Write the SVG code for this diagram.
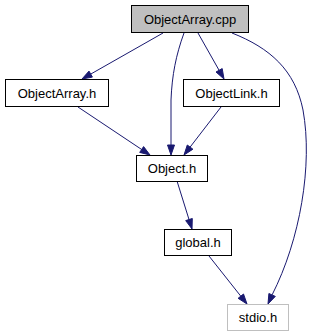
<svg xmlns="http://www.w3.org/2000/svg" width="336" height="336" viewBox="0 0 336 336">
<style>
.node rect{fill:#ffffff;stroke:#000000;stroke-width:1}
.node text{font-family:"Liberation Sans",Arial,sans-serif;font-size:13px;fill:#000000;text-anchor:middle}
.edges path{fill:none;stroke:#191970;stroke-width:1}
.edges polygon{fill:#191970;stroke:#191970;stroke-width:1}
</style>
<rect x="0" y="0" width="336" height="336" fill="#ffffff"/>
<g class="edges">
<path d="M163,33 L90.7,74.1"/>
<polygon points="92.4,77.1 82,79 89,71.1"/>
<path d="M184,33 C176,55 172,75 171,100 L171,145"/>
<polygon points="167.5,145 171,155 174.5,145"/>
<path d="M198,33 L219.1,70.3"/>
<polygon points="216,72 224,79 222.2,68.6"/>
<path d="M232,33 C270,48 295,70 303,110 C313,165 300,240 272.1,294.9"/>
<polygon points="275.3,296.4 268,304 268.9,293.5"/>
<path d="M78,107 L141.7,149.5"/>
<polygon points="139.7,152.4 150,155 143.6,146.6"/>
<path d="M221,107 L190.1,147.1"/>
<polygon points="192.9,149.2 184,155 187.3,145"/>
<path d="M177,181 L189,219.5"/>
<polygon points="185.7,220.6 192,229 192.3,218.5"/>
<path d="M209,256 L240.8,296.2"/>
<polygon points="238.1,298.3 247,304 243.5,294"/>
</g>
<g id="node-cpp" class="node">
<rect x="131.5" y="5.5" width="117" height="27" style="fill:#bfbfbf"/>
<text x="190" y="23.5">ObjectArray.cpp</text>
</g>
<g id="node-objectarray-h" class="node">
<rect x="5.5" y="79.5" width="103" height="27"/>
<text x="57" y="97.5">ObjectArray.h</text>
</g>
<g id="node-objectlink-h" class="node">
<rect x="183.5" y="79.5" width="96" height="27"/>
<text x="231.5" y="97.5">ObjectLink.h</text>
</g>
<g id="node-object-h" class="node">
<rect x="136.5" y="155.5" width="71" height="26"/>
<text x="172" y="173">Object.h</text>
</g>
<g id="node-global-h" class="node">
<rect x="164.5" y="229.5" width="67" height="26"/>
<text x="198" y="247">global.h</text>
</g>
<g id="node-stdio-h" class="node">
<rect x="227.5" y="304.5" width="61" height="26" style="stroke:#bfbfbf"/>
<text x="258" y="322">stdio.h</text>
</g>
</svg>
